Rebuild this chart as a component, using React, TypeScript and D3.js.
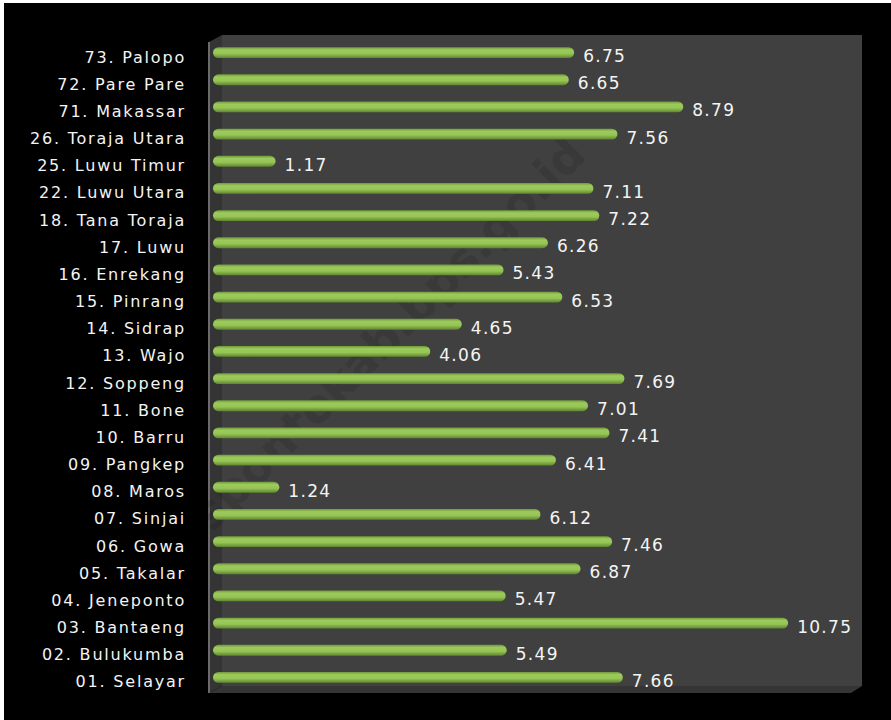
import { useEffect, useRef } from 'react';
import * as d3 from 'd3';

// categories, top to bottom
const regions = [
  '73. Palopo', '72. Pare Pare', '71. Makassar', '26. Toraja Utara', '25. Luwu Timur',
  '22. Luwu Utara', '18. Tana Toraja', '17. Luwu', '16. Enrekang', '15. Pinrang',
  '14. Sidrap', '13. Wajo', '12. Soppeng', '11. Bone', '10. Barru', '09. Pangkep',
  '08. Maros', '07. Sinjai', '06. Gowa', '05. Takalar', '04. Jeneponto',
  '03. Bantaeng', '02. Bulukumba', '01. Selayar',
];
const values = [
  6.75, 6.65, 8.79, 7.56, 1.17, 7.11, 7.22, 6.26, 5.43, 6.53, 4.65, 4.06,
  7.69, 7.01, 7.41, 6.41, 1.24, 6.12, 7.46, 6.87, 5.47, 10.75, 5.49, 7.66,
];
const valueLabels = values.map((v) => v.toFixed(2));
const watermark = 'spontokab.bps.go.id';

const W = 891;
const H = 720;

export default function App() {
  const svgRef = useRef<SVGSVGElement>(null);

  useEffect(() => {
    if (!svgRef.current) return;
    const svg = d3.select(svgRef.current);
    svg.selectAll('*').remove();

    const data = regions.map((r, i) => ({ region: r, value: values[i], label: valueLabels[i] }));

    const wall = { left: 222, right: 862, top: 35, bottom: 686, depth: 13 };

    const x = d3.scaleLinear().domain([0, 12]).range([213, 855]);
    const y = d3.scaleBand<string>()
      .domain(regions)
      .range([39, 691])
      .paddingInner(0.6)
      .paddingOuter(0.3);

    // background + white scan border
    svg.append('rect').attr('width', W).attr('height', H).attr('fill', '#000');
    svg.append('rect').attr('x', 0).attr('y', 0).attr('width', W).attr('height', 3).attr('fill', '#fff');
    svg.append('rect').attr('x', 0).attr('y', 0).attr('width', 4).attr('height', H).attr('fill', '#fff');

    const defs = svg.append('defs');
    const grad = defs.append('linearGradient')
      .attr('id', 'barGrad')
      .attr('x1', 0).attr('y1', 0).attr('x2', 0).attr('y2', 1);
    grad.append('stop').attr('offset', '0%').attr('stop-color', '#6f9838');
    grad.append('stop').attr('offset', '25%').attr('stop-color', '#9cca5c');
    grad.append('stop').attr('offset', '60%').attr('stop-color', '#96c455');
    grad.append('stop').attr('offset', '100%').attr('stop-color', '#5f8530');

    // 3D box: side wall, back wall, floor
    const d = wall.depth;
    svg.append('polygon')
      .attr('points', `${wall.left - d},${wall.top + 7} ${wall.left},${wall.top} ${wall.left},${wall.bottom} ${wall.left - d},${wall.bottom + 7}`)
      .attr('fill', '#343434');
    svg.append('rect')
      .attr('x', wall.left).attr('y', wall.top)
      .attr('width', wall.right - wall.left).attr('height', wall.bottom - wall.top)
      .attr('fill', '#404040');
    svg.append('polygon')
      .attr('points', `${wall.left - d},${wall.bottom + 7} ${wall.left},${wall.bottom} ${wall.right},${wall.bottom} ${wall.right - 11},${wall.bottom + 7}`)
      .attr('fill', '#353535');
    svg.append('line')
      .attr('x1', wall.left - d).attr('x2', wall.left - d)
      .attr('y1', wall.top + 7).attr('y2', wall.bottom + 7)
      .attr('stroke', '#6a6a6a').attr('stroke-width', 2);

    // faint watermark
    svg.append('text')
      .attr('transform', 'translate(400,345) rotate(-45)')
      .attr('text-anchor', 'middle')
      .attr('font-family', '"DejaVu Sans", Verdana, sans-serif')
      .attr('font-weight', 'bold')
      .attr('font-size', 46)
      .attr('fill', '#000')
      .attr('opacity', 0.1)
      .text(watermark);

    const bh = y.bandwidth();

    svg.append('g').selectAll('rect')
      .data(data)
      .enter().append('rect')
      .attr('x', x(0))
      .attr('y', (dd) => y(dd.region) ?? 0)
      .attr('width', (dd) => x(dd.value) - x(0))
      .attr('height', bh)
      .attr('rx', bh / 2)
      .attr('fill', 'url(#barGrad)');

    // value labels
    svg.append('g').selectAll('text')
      .data(data)
      .enter().append('text')
      .attr('x', (dd) => x(dd.value) + 9)
      .attr('y', (dd) => (y(dd.region) ?? 0) + bh / 2 + 3)
      .attr('dy', '0.38em')
      .attr('fill', '#f4f4f4')
      .attr('font-family', '"DejaVu Sans", Verdana, sans-serif')
      .attr('font-size', 17)
      .attr('letter-spacing', 1.3)
      .text((dd) => dd.label);

    // category labels
    svg.append('g').selectAll('text')
      .data(data)
      .enter().append('text')
      .attr('x', 186)
      .attr('y', (dd) => (y(dd.region) ?? 0) + bh / 2 + 4)
      .attr('dy', '0.38em')
      .attr('text-anchor', 'end')
      .attr('fill', '#f4f4f4')
      .attr('font-family', '"DejaVu Sans", Verdana, sans-serif')
      .attr('font-size', 16)
      .attr('letter-spacing', 1.8)
      .text((dd) => dd.region);
  }, []);

  return (
    <svg
      ref={svgRef}
      width={W}
      height={H}
      style={{ position: 'absolute', left: 0, top: 0, display: 'block' }}
    />
  );
}
